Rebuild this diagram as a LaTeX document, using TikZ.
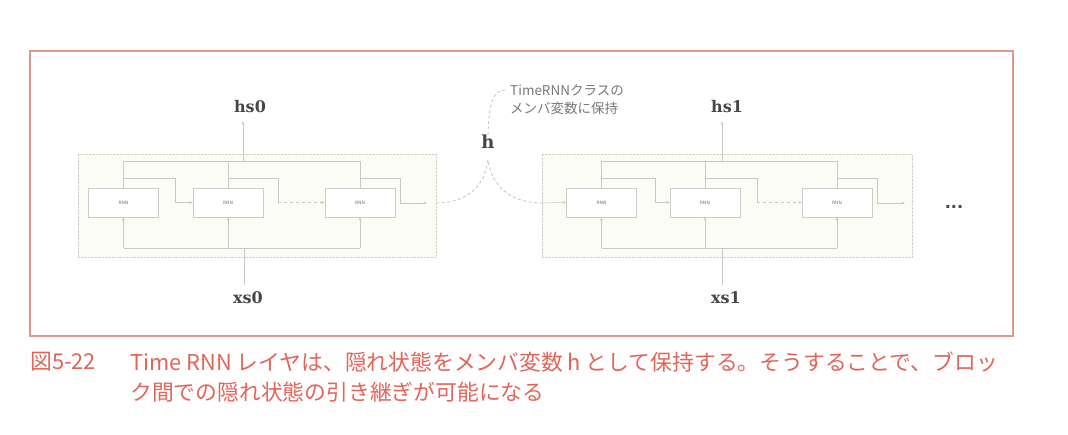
\documentclass[tikz,border=0pt]{standalone}
\usepackage{fontspec}
\newfontfamily\jpfont{Noto Sans CJK JP}
\newfontfamily\labfont{DejaVu Serif}
\newfontfamily\dotfont{DejaVu Sans}
\usetikzlibrary{arrows.meta}
\definecolor{framered}{RGB}{226,150,140}
\definecolor{capred}{RGB}{228,100,88}
\definecolor{wiregray}{RGB}{200,200,200}
\definecolor{boxgray}{RGB}{205,205,205}
\definecolor{blockgray}{RGB}{208,208,203}
\definecolor{blockfill}{RGB}{252,252,247}
\definecolor{notegray}{RGB}{120,120,120}
\definecolor{labgray}{RGB}{70,70,70}
\begin{document}
\begin{tikzpicture}[x=1pt,y=-1pt,
  blockbox/.style={draw=blockgray, densely dotted, fill=blockfill, minimum height=103pt, inner sep=0pt},
  rnnbox/.style={draw=boxgray, fill=white, minimum width=70pt, minimum height=29pt, inner sep=0pt,
    font=\dotfont\fontsize{4.5}{5}\selectfont, text=notegray},
  wire/.style={draw=wiregray, line width=0.6pt},
  arr/.style={wire, -{Stealth[length=3.5pt,width=2.8pt]}},
  hcurve/.style={draw=wiregray, line width=0.9pt, dash pattern=on 3pt off 2.5pt},
  labtext/.style={font=\labfont\bfseries\fontsize{16}{18}\selectfont, text=labgray, inner sep=0pt},
  notetext/.style={font=\jpfont\fontsize{13.5}{15}\selectfont, text=notegray, inner sep=0pt, anchor=west},
  captext/.style={font=\jpfont\fontsize{21.8}{24}\selectfont, text=capred, inner sep=0pt, anchor=west}
]
\useasboundingbox (0,0) rectangle (1068,434);
\fill[white] (0,0) rectangle (1068,434);
% outer frame
\draw[framered, line width=1.3pt] (30,51) rectangle (1013,336);

% blocks
\node[blockbox, minimum width=358pt] (LB) at (257,205.5) {};
\node[blockbox, minimum width=370pt] (RB) at (727,205.5) {};

% RNN boxes
\node[rnnbox] (L1) at (123.5,202.5) {RNN};
\node[rnnbox] (L2) at (228,202.5) {RNN};
\node[rnnbox] (L3) at (360,202.5) {RNN};
\node[rnnbox] (R1) at (601.5,202.5) {RNN};
\node[rnnbox] (R2) at (705,202.5) {RNN};
\node[rnnbox] (R3) at (837,202.5) {RNN};

% labels
\node[labtext] (hs0) at (250,107) {hs0};
\node[labtext] (xs0) at (248,298) {xs0};
\node[labtext] (hs1) at (727,107) {hs1};
\node[labtext] (xs1) at (726,298) {xs1};
\node[labtext, font=\labfont\bfseries\fontsize{18}{20}\selectfont] (h) at (488,142) {h};
\node[notetext] (note1) at (510,90) {TimeRNNクラスの};
\node[notetext] (note2) at (510,108) {メンバ変数に保持};
\node[font=\dotfont\bfseries\fontsize{16}{18}\selectfont, text=labgray, inner sep=0pt] (dots) at (954,207) {...};

% junction coordinates
\coordinate (LT) at (243,161);
\coordinate (LX) at (244,248);
\coordinate (LM) at (243,178);
\coordinate (Lout) at (427,203);
\coordinate (RT) at (722,161);
\coordinate (RX) at (722,248);
\coordinate (RM) at (722,178);
\coordinate (Rout) at (905,203);
\coordinate (hpk) at (488,160);

% ---- left block wiring
\draw[wire] (L1.north |- LT) -- (L3.north |- LT);
\foreach \n in {L1,L2,L3} \draw[wire] (\n.north) -- (\n.north |- LT);
\draw[arr] (LT) -- ([yshift=-8pt]hs0.south -| LT);
\draw[arr] (L1.north |- LM) -- ++(52,0) |- (L2.west);
\draw[wire] (L2.north |- LM) -- ++(50,0) -- ++(0,24.5);
\draw[arr, dashed] ([xshift=50pt]L2.north |- L2.west) -- (L3.west);
\draw[arr] (L3.north |- LM) -- ++(40,0) |- (Lout);
\draw[wire] (L1.south |- LX) -- (L3.south |- LX);
\foreach \n in {L1,L2,L3} \draw[arr] (\n.south |- LX) -- (\n.south);
\draw[wire] ([yshift=7pt]xs0.north -| LX) -- (LX);

% ---- right block wiring
\draw[wire] (R1.north |- RT) -- (R3.north |- RT);
\foreach \n in {R1,R2,R3} \draw[wire] (\n.north) -- (\n.north |- RT);
\draw[arr] (RT) -- ([yshift=-8pt]hs1.south -| RT);
\draw[arr] (R1.north |- RM) -- ++(53.5,0) |- (R2.west);
\draw[wire] (R2.north |- RM) -- ++(52,0) -- ++(0,24.5);
\draw[arr, dashed] ([xshift=52pt]R2.north |- R2.west) -- (R3.west);
\draw[arr] (R3.north |- RM) -- ++(40,0) |- (Rout);
\draw[wire] (R1.south |- RX) -- (R3.south |- RX);
\foreach \n in {R1,R2,R3} \draw[arr] (\n.south |- RX) -- (\n.south);
\draw[wire] ([yshift=7pt]xs1.north -| RX) -- (RX);

% ---- hidden state handover
\draw[hcurve] (LB.east |- Lout) .. controls (468,203) and (485,185) .. (hpk)
  .. controls (491,185) and (510,203) .. (RB.west |- Lout);
\draw[arr] (RB.west |- Lout) -- (R1.west);
\draw[hcurve] (h.north) .. controls (489,102) and (493,90) .. ([xshift=-4pt]note1.west);

% caption
\node[captext] (cap0) at (30,362) {図5-22};
\node[captext] (cap1) at (130,362) {Time RNN レイヤは、隠れ状態をメンバ変数 h として保持する。そうすることで、ブロッ};
\node[captext] (cap2) at (130,392) {ク間での隠れ状態の引き継ぎが可能になる};
\end{tikzpicture}
\end{document}
